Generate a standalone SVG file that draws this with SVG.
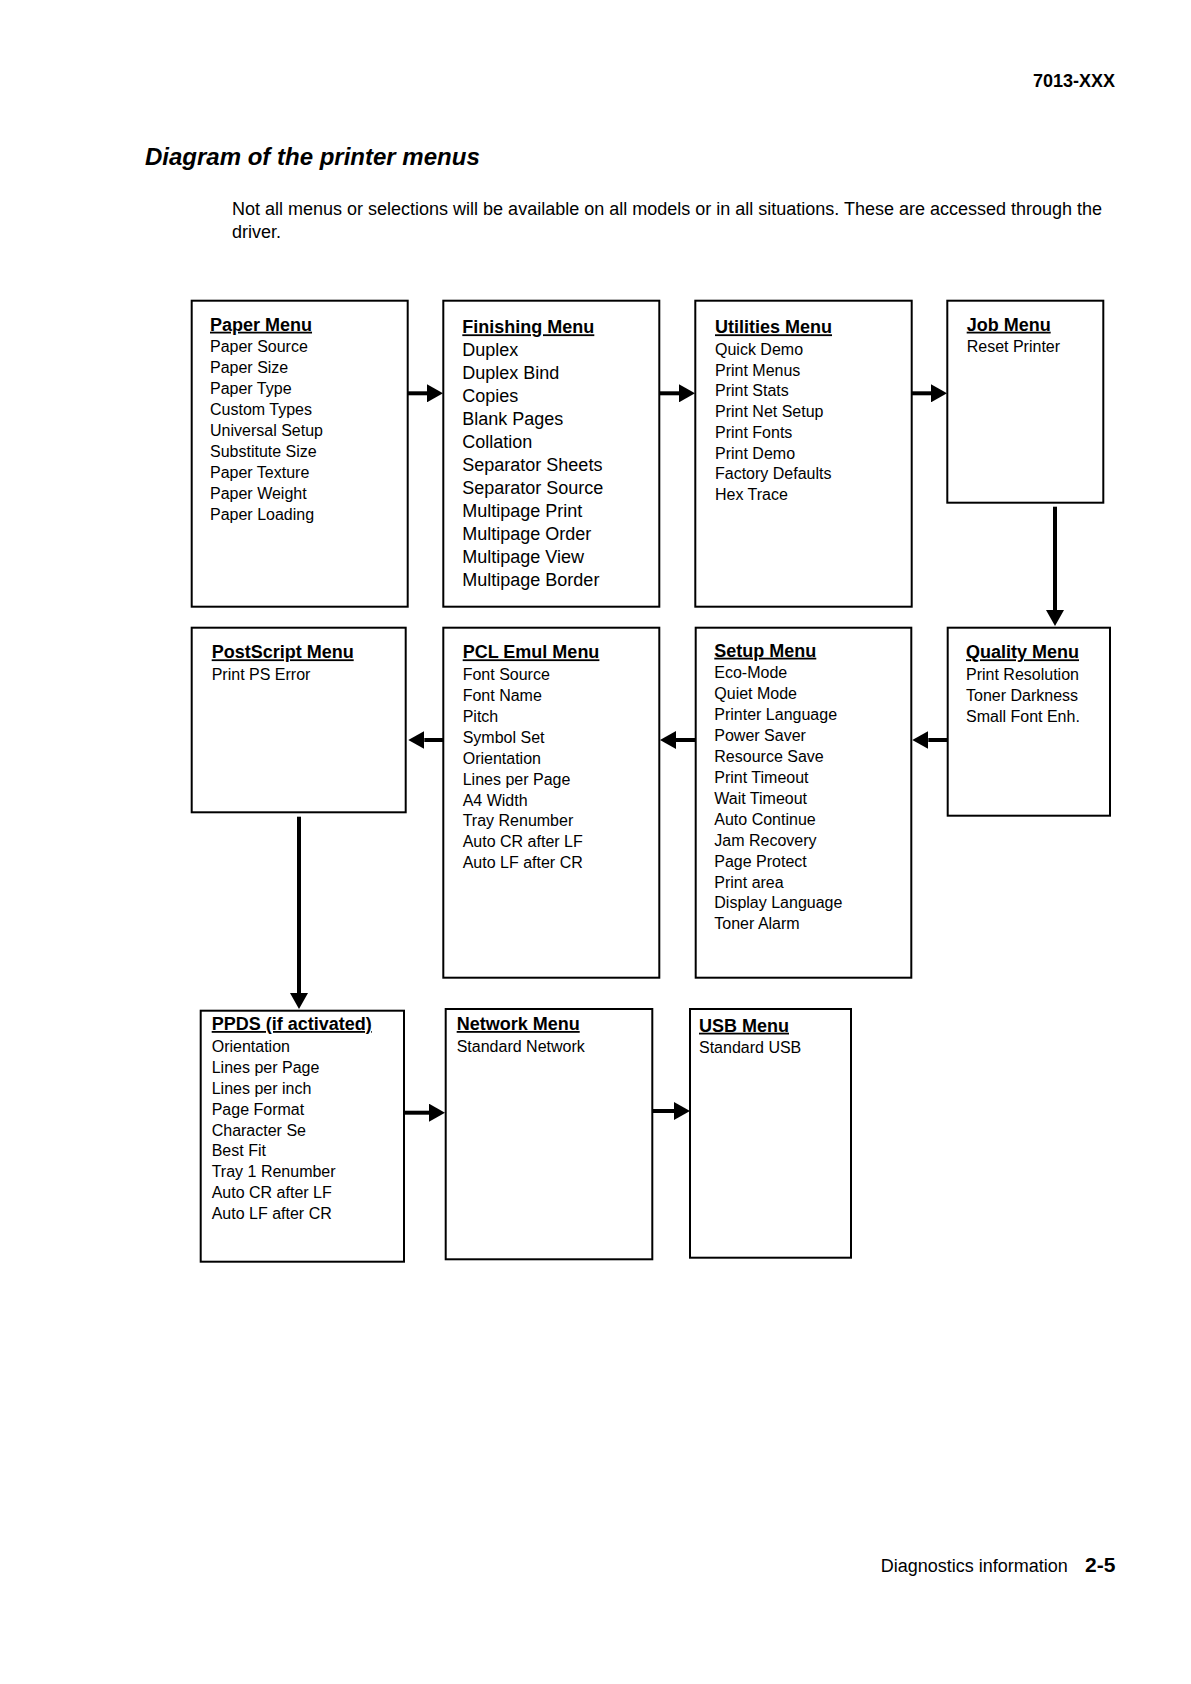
<svg xmlns="http://www.w3.org/2000/svg" width="1191" height="1684" viewBox="0 0 1191 1684">
<style>
text{font-family:"Liberation Sans",Arial,Helvetica,sans-serif;fill:#000}
.box{fill:#fff;stroke:#000;stroke-width:2}
.h{font-weight:bold;font-size:18px;text-decoration:underline}
.i{font-size:16px}
.f{font-size:18px}
.c{stroke:#000;stroke-width:4;fill:none}
</style>
<defs>
<marker id="ah" markerUnits="userSpaceOnUse" markerWidth="16" markerHeight="18" viewBox="0 0 16 18" refX="0" refY="9" orient="auto">
<path d="M0,0 L16,9 L0,18 Z" fill="#000"/>
</marker>
</defs>
<rect width="1191" height="1684" fill="#fff"/>
<text x="1115" y="87" text-anchor="end" font-weight="bold" font-size="18">7013-XXX</text>
<text x="145" y="165" font-weight="bold" font-style="italic" font-size="24">Diagram of the printer menus</text>
<text x="232" y="215" font-size="18">Not all menus or selections will be available on all models or in all situations. These are accessed through the</text>
<text x="232" y="238.3" font-size="18">driver.</text>

<g id="connectors">
<line class="c" x1="407.7" y1="393.3" x2="427" y2="393.3" marker-end="url(#ah)"/>
<line class="c" x1="659.3" y1="393.3" x2="679" y2="393.3" marker-end="url(#ah)"/>
<line class="c" x1="911.7" y1="393.3" x2="931" y2="393.3" marker-end="url(#ah)"/>
<line class="c" x1="1055" y1="506.7" x2="1055" y2="610" marker-end="url(#ah)"/>
<line class="c" x1="947.7" y1="740" x2="928.3" y2="740" marker-end="url(#ah)"/>
<line class="c" x1="695.7" y1="740" x2="676" y2="740" marker-end="url(#ah)"/>
<line class="c" x1="443.3" y1="740" x2="424.3" y2="740" marker-end="url(#ah)"/>
<line class="c" x1="299" y1="816.7" x2="299" y2="993" marker-end="url(#ah)"/>
<line class="c" x1="404" y1="1112.7" x2="429" y2="1112.7" marker-end="url(#ah)"/>
<line class="c" x1="652.3" y1="1111" x2="674" y2="1111" marker-end="url(#ah)"/>
</g>

<g id="paper-menu">
<rect class="box" x="191.7" y="300.7" width="216" height="306"/>
<text class="h" x="210" y="330.7">Paper Menu</text>
<text class="i">
<tspan x="210" y="351.7">Paper Source</tspan>
<tspan x="210" y="372.7">Paper Size</tspan>
<tspan x="210" y="393.8">Paper Type</tspan>
<tspan x="210" y="414.8">Custom Types</tspan>
<tspan x="210" y="435.9">Universal Setup</tspan>
<tspan x="210" y="456.9">Substitute Size</tspan>
<tspan x="210" y="477.9">Paper Texture</tspan>
<tspan x="210" y="499">Paper Weight</tspan>
<tspan x="210" y="520">Paper Loading</tspan>
</text>
</g>

<g id="finishing-menu">
<rect class="box" x="443.3" y="300.7" width="216" height="306"/>
<text class="h" x="462.3" y="333.3">Finishing Menu</text>
<text class="f">
<tspan x="462.3" y="355.7">Duplex</tspan>
<tspan x="462.3" y="378.7">Duplex Bind</tspan>
<tspan x="462.3" y="401.8">Copies</tspan>
<tspan x="462.3" y="424.8">Blank Pages</tspan>
<tspan x="462.3" y="447.8">Collation</tspan>
<tspan x="462.3" y="470.9">Separator Sheets</tspan>
<tspan x="462.3" y="493.9">Separator Source</tspan>
<tspan x="462.3" y="516.9">Multipage Print</tspan>
<tspan x="462.3" y="539.9">Multipage Order</tspan>
<tspan x="462.3" y="563">Multipage View</tspan>
<tspan x="462.3" y="586">Multipage Border</tspan>
</text>
</g>

<g id="utilities-menu">
<rect class="box" x="695.3" y="300.7" width="216.4" height="306"/>
<text class="h" x="715" y="333.3">Utilities Menu</text>
<text class="i">
<tspan x="715" y="355">Quick Demo</tspan>
<tspan x="715" y="375.7">Print Menus</tspan>
<tspan x="715" y="396.4">Print Stats</tspan>
<tspan x="715" y="417.1">Print Net Setup</tspan>
<tspan x="715" y="437.9">Print Fonts</tspan>
<tspan x="715" y="458.6">Print Demo</tspan>
<tspan x="715" y="479.3">Factory Defaults</tspan>
<tspan x="715" y="500">Hex Trace</tspan>
</text>
</g>

<g id="job-menu">
<rect class="box" x="947.3" y="300.7" width="156" height="202"/>
<text class="h" x="966.7" y="330.7">Job Menu</text>
<text class="i" x="966.7" y="351.7">Reset Printer</text>
</g>

<g id="postscript-menu">
<rect class="box" x="191.7" y="627.7" width="214" height="184.6"/>
<text class="h" x="211.7" y="658.3">PostScript Menu</text>
<text class="i" x="211.7" y="680">Print PS Error</text>
</g>

<g id="pcl-emul-menu">
<rect class="box" x="443.3" y="627.7" width="216" height="350"/>
<text class="h" x="462.7" y="658.3">PCL Emul Menu</text>
<text class="i">
<tspan x="462.7" y="680">Font Source</tspan>
<tspan x="462.7" y="700.9">Font Name</tspan>
<tspan x="462.7" y="721.8">Pitch</tspan>
<tspan x="462.7" y="742.8">Symbol Set</tspan>
<tspan x="462.7" y="763.7">Orientation</tspan>
<tspan x="462.7" y="784.6">Lines per Page</tspan>
<tspan x="462.7" y="805.5">A4 Width</tspan>
<tspan x="462.7" y="826.4">Tray Renumber</tspan>
<tspan x="462.7" y="847.4">Auto CR after LF</tspan>
<tspan x="462.7" y="868.3">Auto LF after CR</tspan>
</text>
</g>

<g id="setup-menu">
<rect class="box" x="695.7" y="627.7" width="215.6" height="350"/>
<text class="h" x="714.3" y="656.7">Setup Menu</text>
<text class="i">
<tspan x="714.3" y="678.3">Eco-Mode</tspan>
<tspan x="714.3" y="699.2">Quiet Mode</tspan>
<tspan x="714.3" y="720.1">Printer Language</tspan>
<tspan x="714.3" y="741.1">Power Saver</tspan>
<tspan x="714.3" y="762">Resource Save</tspan>
<tspan x="714.3" y="782.9">Print Timeout</tspan>
<tspan x="714.3" y="803.8">Wait Timeout</tspan>
<tspan x="714.3" y="824.7">Auto Continue</tspan>
<tspan x="714.3" y="845.6">Jam Recovery</tspan>
<tspan x="714.3" y="866.5">Page Protect</tspan>
<tspan x="714.3" y="887.5">Print area</tspan>
<tspan x="714.3" y="908.4">Display Language</tspan>
<tspan x="714.3" y="929.3">Toner Alarm</tspan>
</text>
</g>

<g id="quality-menu">
<rect class="box" x="947.7" y="627.7" width="162.3" height="188"/>
<text class="h" x="966" y="658.3">Quality Menu</text>
<text class="i">
<tspan x="966" y="680">Print Resolution</tspan>
<tspan x="966" y="701">Toner Darkness</tspan>
<tspan x="966" y="722">Small Font Enh.</tspan>
</text>
</g>

<g id="ppds-menu">
<rect class="box" x="200.7" y="1010.7" width="203.3" height="251"/>
<text class="h" x="211.7" y="1030">PPDS (if activated)</text>
<text class="i">
<tspan x="211.7" y="1051.7">Orientation</tspan>
<tspan x="211.7" y="1072.6">Lines per Page</tspan>
<tspan x="211.7" y="1093.6">Lines per inch</tspan>
<tspan x="211.7" y="1114.5">Page Format</tspan>
<tspan x="211.7" y="1135.5">Character Se</tspan>
<tspan x="211.7" y="1156.4">Best Fit</tspan>
<tspan x="211.7" y="1177.4">Tray 1 Renumber</tspan>
<tspan x="211.7" y="1198.3">Auto CR after LF</tspan>
<tspan x="211.7" y="1219.3">Auto LF after CR</tspan>
</text>
</g>

<g id="network-menu">
<rect class="box" x="445.7" y="1009" width="206.6" height="250.3"/>
<text class="h" x="456.7" y="1030">Network Menu</text>
<text class="i" x="456.7" y="1051.7">Standard Network</text>
</g>

<g id="usb-menu">
<rect class="box" x="690" y="1009" width="161" height="248.7"/>
<text class="h" x="699" y="1031.7">USB Menu</text>
<text class="i" x="699" y="1052.7">Standard USB</text>
</g>

<text x="880.7" y="1571.7" font-size="18">Diagnostics information</text>
<text x="1085" y="1571.7" font-size="21" font-weight="bold">2-5</text>
</svg>
